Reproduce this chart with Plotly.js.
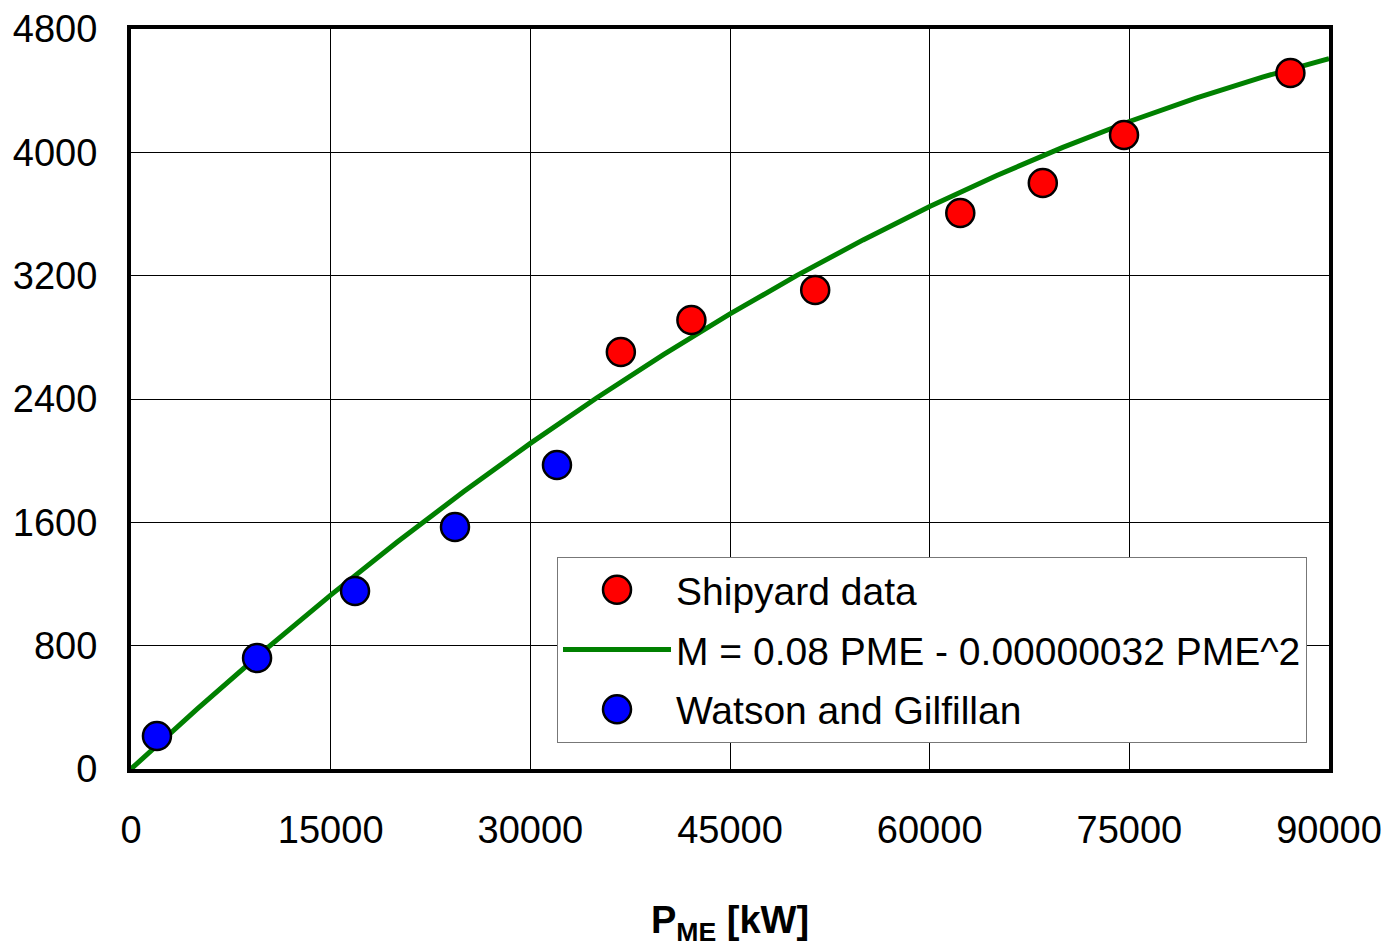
<!DOCTYPE html>
<html>
<head>
<meta charset="utf-8">
<script src="https://cdn.plot.ly/plotly-3.0.1.min.js"></script>
<style>html,body{margin:0;padding:0;background:#fff;}#chart{width:1386px;height:947px;}</style>
</head>
<body>
<div id="chart"></div>
<script>
// Shipyard data (red)
const shipyardP = [36800, 42100, 51400, 62300, 68500, 74600, 87100];
const shipyardM = [2705, 2912, 3107, 3606, 3801, 4112, 4514];
// Watson and Gilfillan (blue)
const watsonP = [1950, 9470, 16830, 24340, 32000];
const watsonM = [214, 720, 1155, 1570, 1972];
// Fitted curve
const curveP = [0, 5000, 10000, 15000, 20000, 25000, 30000, 35000, 40000, 45000, 50000, 55000, 60000, 65000, 70000, 75000, 80000, 85000, 90000];
const curveM = [0, 392, 768, 1128, 1472, 1800, 2112, 2408, 2688, 2952, 3200, 3432, 3648, 3848, 4032, 4200, 4352, 4488, 4608];

const xTicks = [0, 15000, 30000, 45000, 60000, 75000, 90000];
const yTicks = [0, 800, 1600, 2400, 3200, 4000, 4800];

const FONT = 'Liberation Sans, Arial, sans-serif';

const traces = [
  {
    x: curveP, y: curveM, type: 'scatter', mode: 'lines',
    name: 'M = 0.08 PME - 0.00000032 PME^2',
    line: {color: '#008000', width: 5},
    legendrank: 2, legendgroup: 'b'
  },
  {
    x: shipyardP, y: shipyardM, type: 'scatter', mode: 'markers',
    name: 'Shipyard data',
    marker: {color: '#ff0000', size: 28, line: {color: '#000', width: 2.5}},
    legendrank: 1, legendgroup: 'a'
  },
  {
    x: watsonP, y: watsonM, type: 'scatter', mode: 'markers',
    name: 'Watson and Gilfillan',
    marker: {color: '#0000ff', size: 28, line: {color: '#000', width: 2.5}},
    legendrank: 3, legendgroup: 'c'
  }
];

const layout = {
  width: 1386, height: 947,
  margin: {l: 131, r: 57, t: 29, b: 178, pad: 0},
  paper_bgcolor: '#fff', plot_bgcolor: '#fff',
  font: {family: FONT, size: 38, color: '#000'},
  showlegend: true,
  legend: {
    x: 0.3556, y: 0.2865, xanchor: 'left', yanchor: 'top',
    bgcolor: '#fff', bordercolor: '#777', borderwidth: 1,
    font: {family: FONT, size: 39, color: '#000'},
    itemwidth: 108,
    traceorder: 'grouped', tracegroupgap: 6
  },
  xaxis: {
    range: [0, 90000], tickvals: xTicks, ticktext: xTicks.map(String),
    showgrid: true, gridcolor: '#000', gridwidth: 1,
    showline: true, linecolor: '#000', linewidth: 4, mirror: true,
    zeroline: false, ticks: '', ticklabelstandoff: 24,
    tickfont: {family: FONT, size: 38, color: '#000'},
    title: {text: '<b>P<sub>ME</sub> [kW]</b>', font: {family: FONT, size: 38, color: '#000'}, standoff: 77}
  },
  yaxis: {
    range: [0, 4800], tickvals: yTicks, ticktext: yTicks.map(String),
    showgrid: true, gridcolor: '#000', gridwidth: 1,
    showline: true, linecolor: '#000', linewidth: 4, mirror: true,
    zeroline: false, ticks: '', ticklabelstandoff: 22,
    tickfont: {family: FONT, size: 38, color: '#000'}
  }
};

Plotly.newPlot('chart', traces, layout, {displayModeBar: false, staticPlot: true}).then(function (gd) {
  // enlarge legend marker symbols to match the plotted markers
  const r = 14;
  const circle = 'M' + r + ',0A' + r + ',' + r + ' 0 1,1 0,-' + r + 'A' + r + ',' + r + ' 0 0,1 ' + r + ',0Z';
  gd.querySelectorAll('.legend .legendpoints path.scatterpts').forEach(function (p) {
    p.setAttribute('d', circle);
    p.style.strokeWidth = '2.5px';
  });
});
</script>
</body>
</html>
